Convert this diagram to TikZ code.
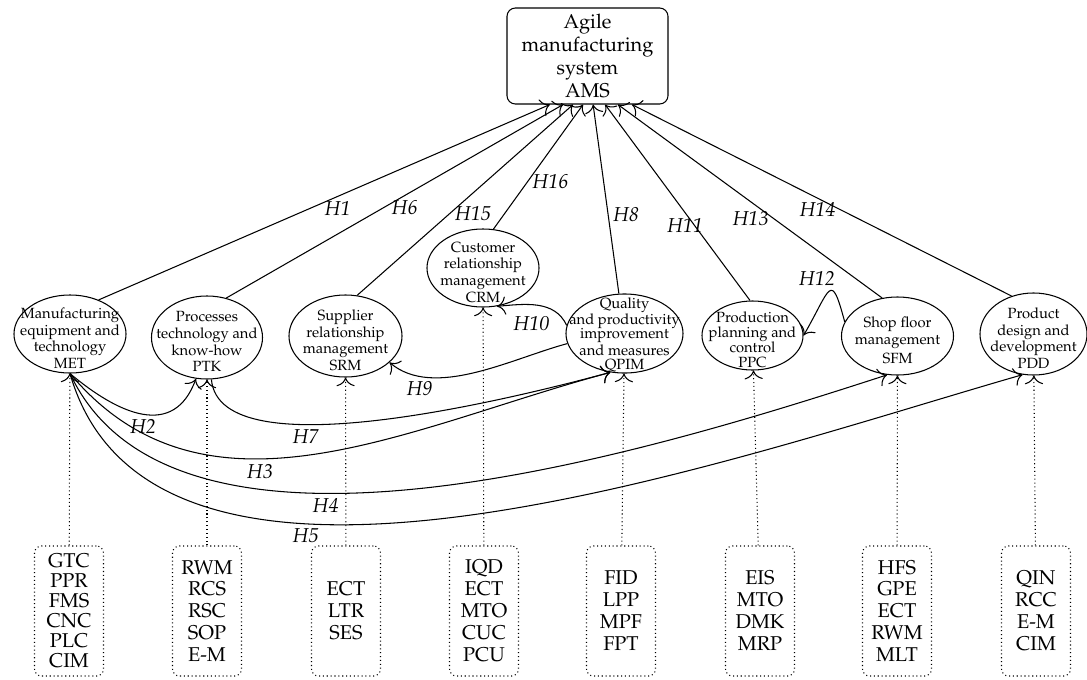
\documentclass[tikz,border=0pt]{standalone}
\usepackage[T1]{fontenc}
\usepackage{mathpazo}
\usetikzlibrary{shapes.geometric, positioning, arrows.meta}

\begin{document}
\begin{tikzpicture}[x=0.025cm, y=-0.025cm, line width=0.75pt, >={To[scale=1.9]},
    factor/.style={draw, ellipse, inner sep=0pt, minimum width=2.8cm, minimum height=1.95cm},
    lbl/.style={align=center, font=\fontsize{10.5}{11.8}\selectfont, yshift=-3pt},
    attr/.style={draw, dotted, rounded corners=5pt, minimum width=1.725cm, minimum height=3.25cm, align=center, font=\fontsize{14.2}{15.6}\selectfont},
    hyp/.style={font=\fontsize{14.3}{16}\selectfont\itshape}]
  \useasboundingbox (0,0) rectangle (1087,679);

  % target
  \node[draw, rounded corners=6pt, minimum width=4.025cm, minimum height=2.4cm, align=center,
        font=\fontsize{14.2}{16.2}\selectfont] (ams) at (587.5,56) {Agile\\manufacturing\\system\\AMS};

  % factors
  \node[factor, label={[lbl]center:Manufacturing\\equipment and\\technology\\MET}] (met) at (70,334) {};
  \node[factor, minimum width=2.775cm, minimum height=2.075cm, label={[lbl]center:Processes\\technology and\\know-how\\PTK}] (ptk) at (207,337.5) {};
  \node[factor, minimum width=2.825cm, minimum height=2.05cm, label={[lbl]center:Supplier\\relationship\\management\\SRM}] (srm) at (345.5,336) {};
  \node[factor, label={[lbl]center:Customer\\relationship\\management\\CRM}] (crm) at (483,268) {};
  \node[factor, minimum width=2.925cm, minimum height=1.975cm, label={[lbl, font=\fontsize{10.5}{10.4}\selectfont, yshift=2pt]center:Quality\\and productivity\\improvement\\and measures\\QPIM}] (qpim) at (624.5,333.5) {};
  \node[factor, minimum width=2.525cm, minimum height=1.725cm, label={[lbl, font=\fontsize{10.5}{10.8}\selectfont]center:Production\\planning and\\control\\PPC}] (ppc) at (752.5,335.5) {};
  \node[factor, label={[lbl]center:Shop floor\\management\\[2pt]SFM}] (sfm) at (897.5,336) {};
  \node[factor, minimum width=2.675cm, minimum height=2.05cm, label={[lbl]center:Product\\design and\\development\\PDD}] (pdd) at (1033.5,334) {};

  % indicators
  \node[attr, font=\fontsize{14.2}{14.3}\selectfont] (b1) at (69,611) {GTC\\PPR\\FMS\\CNC\\PLC\\CIM};
  \node[attr] (b2) at (207,611) {RWM\\RCS\\RSC\\SOP\\E-M};
  \node[attr] (b3) at (346,611) {ECT\\LTR\\SES};
  \node[attr] (b4) at (484,611) {IQD\\ECT\\MTO\\CUC\\PCU};
  \node[attr] (b5) at (621,611) {FID\\LPP\\MPF\\FPT};
  \node[attr] (b6) at (760,611) {EIS\\MTO\\DMK\\MRP};
  \node[attr] (b7) at (897,611) {HFS\\GPE\\ECT\\RWM\\MLT};
  \node[attr] (b8) at (1036,611) {QIN\\RCC\\E-M\\CIM};

  \path[->]
    (met.50) edge node[hyp, pos=.53, below] {H1} ([xshift=-0.94cm]ams.south)
    (ptk.64) edge node[hyp, pos=.53, below] {H6} ([xshift=-0.61cm]ams.south)
    (srm.74) edge node[hyp, pos=.43, right] {H15} ([xshift=-0.36cm]ams.south)
    (crm.75) edge node[hyp, pos=.38, right] {H16} ([xshift=-0.11cm]ams.south)
    (qpim.98) edge node[hyp, pos=.42, right] {H8} ([xshift=0.14cm]ams.south)
    (ppc.94) edge node[hyp, pos=.38, xshift=-7pt] {H11} ([xshift=0.44cm]ams.south)
    (sfm.112) edge node[hyp, pos=.41, left] {H13} ([xshift=0.76cm]ams.south)
    (pdd.120) edge node[hyp, pos=.45, left] {H14} ([xshift=1.11cm]ams.south);

  \path[->]
    (met.south) edge[out=-40, in=-110, looseness=1.3] node[hyp, below] {H2} (ptk.-105)
    (met.south) edge[out=-50, in=195] node[hyp, pos=.4, below] {H3} (qpim.-110)
    (met.south) edge[out=-65, in=198, looseness=.78] node[hyp, pos=.39, below] {H4} (sfm.-105)
    (met.south) edge[out=-74, in=196, looseness=.82] node[hyp, pos=.35, below] {H5} (pdd.-105)
    (ptk.-84) edge[out=-85, in=195, looseness=.6] node[hyp, pos=.35, below] {H7} (qpim.-110)
    (qpim.190) edge[out=195, in=-40, looseness=.83] node[hyp, pos=.8, below] {H9} (srm.-31)
    (qpim.172) edge[out=115, in=5] node[hyp, pos=.25, below left] {H10} (crm.-70)
    (sfm.165) edge[out=105, in=60, looseness=3.2] node[hyp, above, xshift=-3mm] {H12} (ppc.east);

  \path[->, dotted]
    (b1) edge (met)
    (b2) edge (ptk)
    (b3) edge (srm)
    (b4) edge (crm)
    (b5) edge (qpim)
    (b6) edge (ppc)
    (b7) edge (sfm)
    (b8) edge (pdd);
\end{tikzpicture}
\end{document}
